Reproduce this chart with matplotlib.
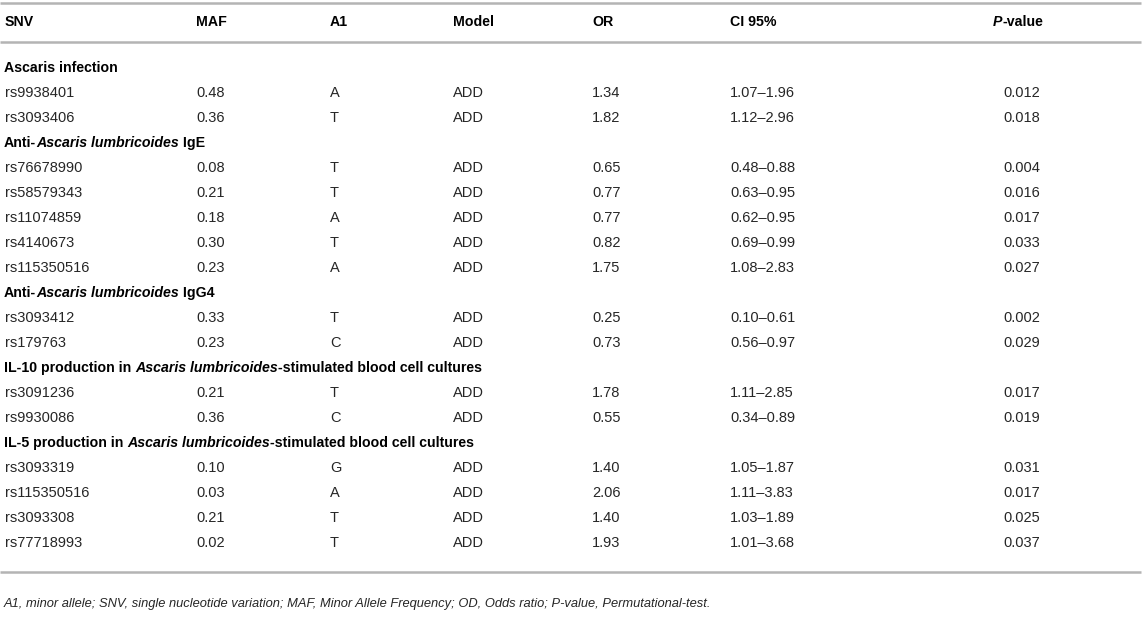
import matplotlib
matplotlib.use("Agg")
import matplotlib.pyplot as plt

plt.rcParams['font.family'] = ['Liberation Sans', 'DejaVu Sans']

columns = ["SNV", "MAF", "A1", "Model", "OR", "CI 95%", "P-value"]
col_x = [5, 196, 330, 453, 592, 730, 1003]

# section title pieces: (text, italic)
sections = [
    [("Ascaris infection", False)],
    [("Anti-", False), ("Ascaris lumbricoides", True), (" IgE", False)],
    [("Anti-", False), ("Ascaris lumbricoides", True), (" IgG4", False)],
    [("IL-10 production in ", False), ("Ascaris lumbricoides", True),
     ("-stimulated blood cell cultures", False)],
    [("IL-5 production in ", False), ("Ascaris lumbricoides", True),
     ("-stimulated blood cell cultures", False)],
]

snv = [["rs9938401", "rs3093406"],
       ["rs76678990", "rs58579343", "rs11074859", "rs4140673", "rs115350516"],
       ["rs3093412", "rs179763"],
       ["rs3091236", "rs9930086"],
       ["rs3093319", "rs115350516", "rs3093308", "rs77718993"]]
maf = [["0.48", "0.36"],
       ["0.08", "0.21", "0.18", "0.30", "0.23"],
       ["0.33", "0.23"],
       ["0.21", "0.36"],
       ["0.10", "0.03", "0.21", "0.02"]]
a1 = [["A", "T"],
      ["T", "T", "A", "T", "A"],
      ["T", "C"],
      ["T", "C"],
      ["G", "A", "T", "T"]]
odds = [["1.34", "1.82"],
        ["0.65", "0.77", "0.77", "0.82", "1.75"],
        ["0.25", "0.73"],
        ["1.78", "0.55"],
        ["1.40", "2.06", "1.40", "1.93"]]
ci = [["1.07\u20131.96", "1.12\u20132.96"],
      ["0.48\u20130.88", "0.63\u20130.95", "0.62\u20130.95", "0.69\u20130.99", "1.08\u20132.83"],
      ["0.10\u20130.61", "0.56\u20130.97"],
      ["1.11\u20132.85", "0.34\u20130.89"],
      ["1.05\u20131.87", "1.11\u20133.83", "1.03\u20131.89", "1.01\u20133.68"]]
pval = [["0.012", "0.018"],
        ["0.004", "0.016", "0.017", "0.033", "0.027"],
        ["0.002", "0.029"],
        ["0.017", "0.019"],
        ["0.031", "0.017", "0.025", "0.037"]]

footnote = ("A1, minor allele; SNV, single nucleotide variation; MAF, Minor Allele Frequency; "
            "OD, Odds ratio; P-value, Permutational-test.")

W, H = 1144, 617
fig = plt.figure(figsize=(W / 100, H / 100), dpi=100)
ax = fig.add_axes([0, 0, 1, 1])
ax.set_xlim(0, W)
ax.set_ylim(H, 0)
ax.axis("off")

fs = 10.5
fs_bold = 10.2
txt = "#262626"
line_c = "#b4b4b4"

fig.canvas.draw()
renderer = fig.canvas.get_renderer()


def pieces(x, y, parts, bold=False):
    # draw runs of text one after another
    for s, it in parts:
        t = ax.text(x, y, s, fontsize=fs_bold if bold else fs,
                    color="black" if bold else txt,
                    fontweight="bold" if bold else "normal",
                    fontstyle="italic" if it else "normal", va="center", ha="left")
        bb = t.get_window_extent(renderer)
        x = x + bb.width


# rules
for yy in [3, 42, 572]:
    ax.plot([0, 1141], [yy, yy], color=line_c, lw=1.8, solid_capstyle="butt")

# header
for i, c in enumerate(columns):
    if c == "P-value":
        pieces(993, 22, [("P", True), ("-value", False)], bold=True)
    else:
        pieces(col_x[i], 22, [(c, False)], bold=True)

y = 67.5
step = 25.05
for k, sec in enumerate(sections):
    pieces(4, y, sec, bold=True)
    y += step
    for j in range(len(snv[k])):
        row = [snv[k][j], maf[k][j], a1[k][j], "ADD", odds[k][j], ci[k][j], pval[k][j]]
        for i, v in enumerate(row):
            ax.text(col_x[i], y, v, fontsize=fs, color=txt, va="center", ha="left")
        y += step

ax.text(4, 604, footnote, fontsize=9.3, color=txt, fontstyle="italic", va="center", ha="left")

fig.savefig("out.png", dpi=100)
